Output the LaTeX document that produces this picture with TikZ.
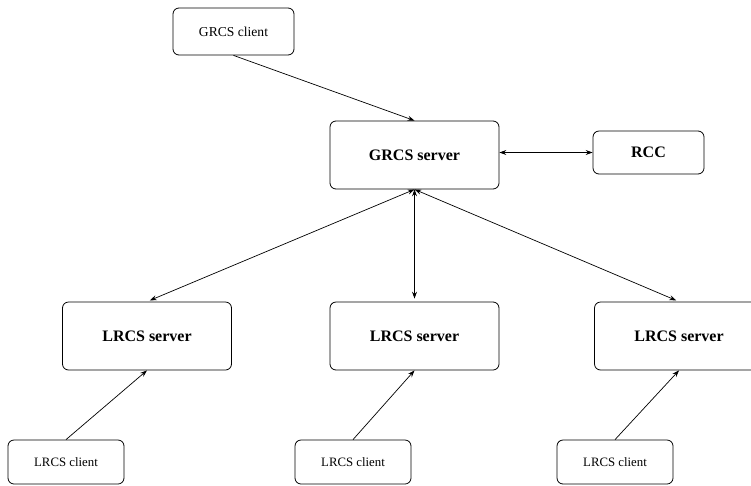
\documentclass[tikz,border=0pt]{standalone}
\usepackage{fontspec}
\setmainfont{Liberation Serif}
\usetikzlibrary{arrows.meta}
\tikzset{
  box/.style={draw, rounded corners=.6em, line width=.8pt, inner sep=0pt},
  server/.style={box, minimum width=169pt, minimum height=68pt, font=\fontsize{16}{18}\selectfont\bfseries},
  client/.style={box, minimum width=116pt, minimum height=44pt, font=\fontsize{12.8}{15}\selectfont},
  link/.style={line width=.7pt, >={Stealth[length=7pt,width=5pt,inset=2.5pt]}}
}
\begin{document}
\begin{tikzpicture}[x=1pt,y=-1pt]
\useasboundingbox (0,0) rectangle (751,485);
\node (gclient) [client, minimum width=121pt, minimum height=47pt, font=\fontsize{13.6}{16}\selectfont] at (233.5,31.5) {GRCS client};
\node (gserver) [server] at (414.5,155) {GRCS server};
\node (rcc) [server, minimum width=111pt, minimum height=43pt] at (648.5,152.5) {RCC};
\node (lserverA) [server] at (147,336) {LRCS server};
\node (lserverB) [server] at (414.5,336) {LRCS server};
\node (lserverC) [server] at (679,336) {LRCS server};
\node (lclientA) [client] at (66,462) {LRCS client};
\node (lclientB) [client] at (353,462) {LRCS client};
\node (lclientC) [client] at (615,462) {LRCS client};
\draw [link, ->] (gclient.south) -- (gserver.north);
\draw [link, <->] (rcc.west -| gserver.east) -- (rcc.west);
\draw [link, <->, shorten >=3pt] (gserver.south) -- (lserverA.north);
\draw [link, <->, shorten >=3pt] (gserver.south) -- (lserverB.north);
\draw [link, <->, shorten >=3pt] (gserver.south) -- (lserverC.north);
\draw [link, ->] (lclientA.north) -- (lserverA.south);
\draw [link, ->] (lclientB.north) -- (lserverB.south);
\draw [link, ->] (lclientC.north) -- (lserverC.south);
\end{tikzpicture}
\end{document}
